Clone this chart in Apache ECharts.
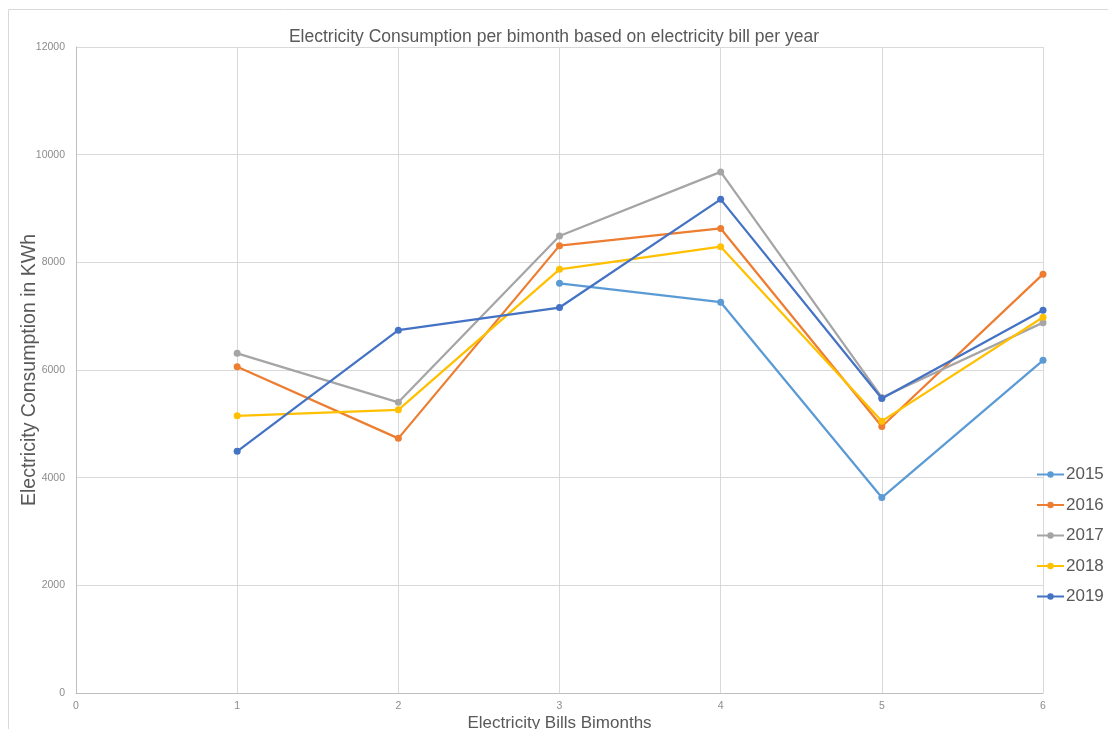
<!DOCTYPE html>
<html>
<head>
<meta charset="utf-8">
<script src="https://cdn.jsdelivr.net/npm/echarts@6/dist/echarts.min.js"></script>
<style>
  html, body { margin: 0; padding: 0; background: #fff; overflow: hidden; }
  #chart { width: 1108px; height: 729px; }
</style>
</head>
<body>
<div id="chart"></div>
<script>
// Bimonthly electricity consumption (kWh) per billing year
const bimonths = [1, 2, 3, 4, 5, 6];
const years = ['2015', '2016', '2017', '2018', '2019'];
const usage2015 = [null, null, 7610, 7260, 3630, 6180];
const usage2016 = [6060, 4730, 8310, 8630, 4950, 7780];
const usage2017 = [6310, 5400, 8490, 9680, 5490, 6880];
const usage2018 = [5150, 5260, 7870, 8290, 5050, 6980];
const usage2019 = [4490, 6740, 7160, 9170, 5470, 7110];
const yTicks = [0, 2000, 4000, 6000, 8000, 10000, 12000];
const xTicks = [0, 1, 2, 3, 4, 5, 6];

const palette = ['#5B9BD5', '#ED7D31', '#A5A5A5', '#FFC000', '#4472C4'];
const seriesValues = [usage2015, usage2016, usage2017, usage2018, usage2019];
const textColor = '#595959';
const font = '"Liberation Sans", Arial, sans-serif';

const chart = echarts.init(document.getElementById('chart'), null, { renderer: 'canvas' });

chart.setOption({
  backgroundColor: '#ffffff',
  animation: false,
  color: palette,
  graphic: [{
    type: 'rect',
    shape: { x: 8.5, y: 9.5, width: 1120, height: 740 },
    style: { fill: 'none', stroke: '#d9d9d9', lineWidth: 1 },
    silent: true
  }],
  title: {
    text: 'Electricity Consumption per bimonth based on electricity bill per year',
    left: 'center',
    top: 23,
    textStyle: { fontFamily: font, fontSize: 17.5, fontWeight: 'normal', color: textColor }
  },
  legend: {
    orient: 'vertical',
    left: 1031,
    top: 461,
    itemWidth: 27,
    itemHeight: 8,
    itemGap: 13.5,
    data: years,
    textStyle: { fontFamily: font, fontSize: 17, color: textColor, padding: [0, 0, 0, -3] }
  },
  grid: {
    left: 76, right: 65, top: 47, bottom: 36,
    containLabel: false,
    outerBoundsMode: 'none'
  },
  xAxis: {
    type: 'value',
    min: xTicks[0],
    max: xTicks[xTicks.length - 1],
    interval: 1,
    name: 'Electricity Bills Bimonths',
    nameLocation: 'middle',
    nameGap: 22,
    nameMoveOverlap: false,
    nameTextStyle: { fontFamily: font, fontSize: 17, color: textColor },
    axisLine: { show: true, lineStyle: { color: '#bfbfbf', width: 1 } },
    axisTick: { show: false },
    axisLabel: { fontFamily: font, fontSize: 10.5, color: '#8c8c8c', margin: 8 },
    splitLine: { show: true, lineStyle: { color: '#d9d9d9', width: 1 } }
  },
  yAxis: {
    type: 'value',
    min: yTicks[0],
    max: yTicks[yTicks.length - 1],
    interval: 2000,
    name: 'Electricity Consumption in KWh',
    nameLocation: 'middle',
    nameGap: 36,
    nameMoveOverlap: false,
    nameTextStyle: { fontFamily: font, fontSize: 19.5, color: textColor },
    axisLine: { show: true, lineStyle: { color: '#bfbfbf', width: 1 } },
    axisTick: { show: false },
    axisLabel: {
      fontFamily: font, fontSize: 10.5, color: '#8c8c8c', margin: 11,
      formatter: v => String(v)
    },
    splitLine: { show: true, lineStyle: { color: '#d9d9d9', width: 1 } }
  },
  series: years.map((y, i) => ({
    name: y,
    type: 'line',
    data: bimonths.map((b, j) => [b, seriesValues[i][j]]),
    connectNulls: false,
    symbol: 'circle',
    symbolSize: 7,
    lineStyle: { width: 2.25 },
    itemStyle: { color: palette[i] },
    z: 2 + i
  }))
});
</script>
</body>
</html>
